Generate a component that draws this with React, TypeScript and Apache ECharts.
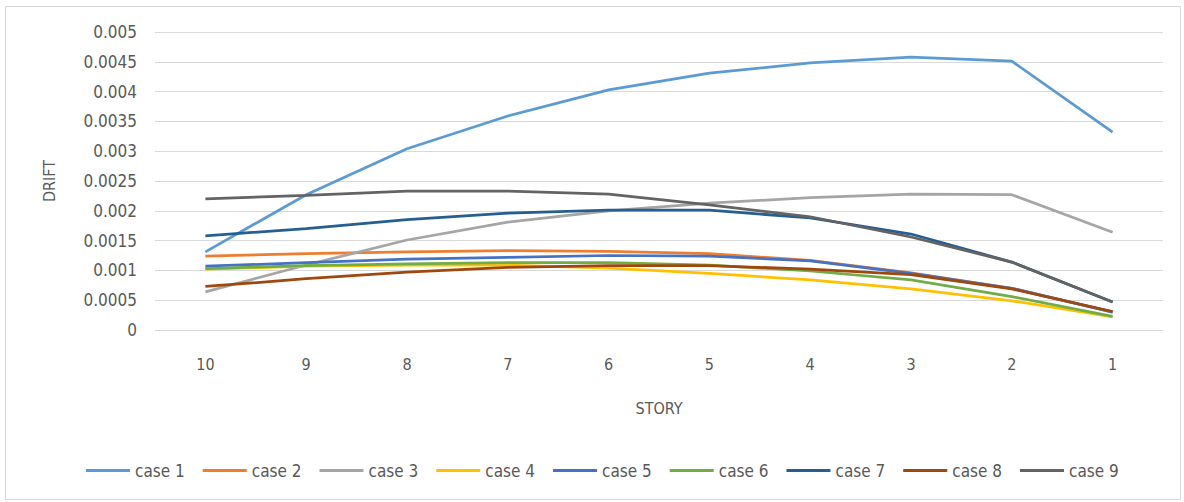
import React, { useEffect, useRef } from "react";
import * as echarts from "echarts";

const stories = ["10", "9", "8", "7", "6", "5", "4", "3", "2", "1"];
const case1 = [0.00131, 0.00227, 0.00304, 0.00359, 0.00403, 0.00431, 0.00448, 0.00458, 0.00451, 0.00332];
const case2 = [0.00124, 0.00128, 0.00131, 0.00133, 0.00132, 0.00128, 0.00117, 0.00096, 0.0007, 0.0003];
const case3 = [0.00064, 0.00109, 0.00151, 0.00181, 0.002, 0.00213, 0.00222, 0.00228, 0.00227, 0.00164];
const case4 = [0.00102, 0.00107, 0.00109, 0.00109, 0.00104, 0.00095, 0.00084, 0.00069, 0.00049, 0.00022];
const case5 = [0.00107, 0.00113, 0.00119, 0.00122, 0.00125, 0.00124, 0.00116, 0.00095, 0.0007, 0.0003];
const case6 = [0.00103, 0.00108, 0.00111, 0.00113, 0.00113, 0.00109, 0.00099, 0.00084, 0.00056, 0.00023];
const case7 = [0.00158, 0.0017, 0.00185, 0.00196, 0.00201, 0.00201, 0.00188, 0.00161, 0.00114, 0.00047];
const case8 = [0.00073, 0.00086, 0.00097, 0.00105, 0.00108, 0.00108, 0.00102, 0.00093, 0.00069, 0.00031];
const case9 = [0.0022, 0.00226, 0.00233, 0.00233, 0.00228, 0.0021, 0.0019, 0.00156, 0.00114, 0.00047];

const seriesNames = ["case 1", "case 2", "case 3", "case 4", "case 5", "case 6", "case 7", "case 8", "case 9"];
const seriesData = [case1, case2, case3, case4, case5, case6, case7, case8, case9];
const colors = ["#5B9BD5", "#ED7D31", "#A5A5A5", "#FFC000", "#4472C4", "#70AD47", "#255E91", "#9E480E", "#636363"];
const yTicks = ["0", "0.0005", "0.001", "0.0015", "0.002", "0.0025", "0.003", "0.0035", "0.004", "0.0045", "0.005"];

const FONT = "'Liberation Sans Narrow', 'DejaVu Sans Condensed', 'Liberation Sans', sans-serif";

export default function App() {
  const ref = useRef<HTMLDivElement>(null);
  useEffect(() => {
    if (!ref.current) return;
    const chart = echarts.init(ref.current, undefined, { renderer: "svg" });
    chart.setOption({
      animation: false,
      color: colors,
      textStyle: { fontFamily: FONT },
      graphic: [
        {
          type: "rect",
          shape: { x: 5.5, y: 6.5, width: 1175, height: 493 },
          style: { fill: "none", stroke: "#D9D9D9", lineWidth: 1 },
          silent: true,
        },
      ],
      grid: { left: 155, right: 21, top: 32, bottom: 172 },
      legend: {
        top: 457,
        left: 81,
        itemWidth: 44,
        itemHeight: 3,
        itemGap: 18,
        icon: "rect",
        textStyle: { color: "#595959", fontSize: 17, fontFamily: FONT },
        data: seriesNames,
      },
      xAxis: {
        type: "category",
        data: stories,
        boundaryGap: true,
        name: "STORY",
        nameLocation: "middle",
        nameGap: 70,
        nameTextStyle: { color: "#595959", fontSize: 16, fontFamily: FONT },
        axisLine: { show: false },
        axisTick: { show: false },
        axisLabel: { color: "#595959", fontSize: 16, margin: 26, fontFamily: FONT },
      },
      yAxis: {
        type: "value",
        min: 0,
        max: 0.005,
        interval: 0.0005,
        name: "DRIFT",
        nameLocation: "middle",
        nameGap: 98,
        nameTextStyle: { color: "#595959", fontSize: 16, fontFamily: FONT },
        axisLine: { show: false },
        axisTick: { show: false },
        axisLabel: {
          color: "#595959",
          fontSize: 17,
          margin: 18,
          fontFamily: FONT,
          formatter: (v: number) => {
            const i = Math.round(v / 0.0005);
            return yTicks[i] ?? String(v);
          },
        },
        splitLine: { lineStyle: { color: "#D9D9D9", width: 1 } },
      },
      series: seriesNames.map((name, i) => ({
        name,
        type: "line",
        data: seriesData[i],
        showSymbol: false,
        symbol: "none",
        lineStyle: { width: 2.75, color: colors[i] },
        itemStyle: { color: colors[i] },
        z: 2 + i,
      })),
    });
    return () => chart.dispose();
  }, []);
  return (
    <div
      ref={ref}
      style={{ position: "absolute", left: 0, top: 0, width: 1184, height: 502, background: "#fff" }}
    />
  );
}
